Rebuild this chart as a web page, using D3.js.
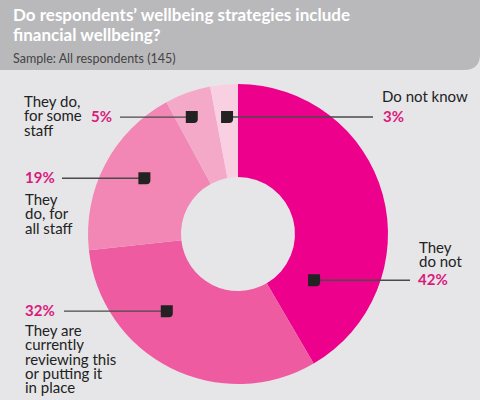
<!DOCTYPE html>
<html><head><meta charset="utf-8">
<script src="https://cdn.jsdelivr.net/npm/d3@7"></script>
<style>
html,body{margin:0;padding:0;background:#e6e6e8;}
svg{display:block;font-family:Lato,"Open Sans",sans-serif;}
</style></head>
<body><svg id="c" width="480" height="400"></svg>
<script>
// ---- data ----
const categories = ["They do not","They are currently reviewing this or putting it in place","They do, for all staff","They do, for some staff","Do not know"];
const values = [42, 32, 19, 5, 3];
const valueLabels = ["42%","32%","19%","5%","3%"];
const labelLines = [
  ["They","do not"],
  ["They are","currently","reviewing this","or putting it","in place"],
  ["They","do, for","all staff"],
  ["They do,","for some","staff"],
  ["Do not know"]
];
const colors = ["#ec008c","#ef5ba0","#f287b5","#f5a9c9","#f9d0e1"];
const title = ["Do respondents\u2019 wellbeing strategies include","financial wellbeing?"];
const subtitle = "Sample: All respondents (145)";

// ---- layout (annotation placement) ----
const W=480,H=400, cx=238, cy=234, R=150, r0=57;
const fs=15, lh=14.3;
// t: position along slice angle, rr: marker radius, lineEnd: x of leader end,
// firstBase: first text-line baseline relative to leader y
const ann = [
  {t:0.81, rr:89,   lineEnd:410, pctX:418, pctAnchor:"start", textX:419, firstBase:-13-lh},
  {t:0.64, rr:105,  lineEnd:64,  pctX:25,  pctAnchor:"start", textX:25,  firstBase:25},
  {t:0.547,rr:109,  lineEnd:62,  pctX:25,  pctAnchor:"start", textX:25,  firstBase:27},
  {t:0.39, rr:125.7,lineEnd:120, pctX:112, pctAnchor:"end",   textX:24,  firstBase:-10},
  {t:0.5,  rr:117.5,lineEnd:373, pctX:383, pctAnchor:"start", textX:382, firstBase:-15}
];

const svg=d3.select("#c");
svg.append("rect").attr("width",W).attr("height",H).attr("fill","#e6e6e8");
const hb=70, cr=16;
svg.append("path").attr("fill","#b9b9bc")
  .attr("d",`M0,0H${W}V${hb-cr}Q${W},${hb} ${W-cr},${hb}H0Z`);
const tt=svg.append("text").attr("x",13).attr("y",21)
  .attr("fill","#fff").attr("font-weight","bold").attr("font-size",17);
tt.selectAll("tspan").data(title).join("tspan").attr("x",13).attr("dy",(d,i)=>i?20:0).text(d=>d);
svg.append("text").attr("x",13).attr("y",63).attr("fill","#444").attr("font-size",12.5).text(subtitle);

const pie=d3.pie().sort(null).value(d=>d)(values);
const arc=d3.arc().innerRadius(r0).outerRadius(R);
const g=svg.append("g").attr("transform",`translate(${cx},${cy})`);
g.selectAll("path").data(pie).join("path").attr("d",arc).attr("fill",(d,i)=>colors[i]);

const pts=pie.map((p,i)=>{
  const a=p.startAngle+ann[i].t*(p.endAngle-p.startAngle);
  return [cx+ann[i].rr*Math.sin(a), cy-ann[i].rr*Math.cos(a)];
});
svg.append("g").selectAll("line").data(pts).join("line")
  .attr("x1",d=>d[0]).attr("y1",d=>d[1]).attr("x2",(d,i)=>ann[i].lineEnd).attr("y2",d=>d[1])
  .attr("stroke","#4a4a4a").attr("stroke-width",1.4);
const s=12, mr=4;
svg.append("g").selectAll("path").data(pts).join("path")
  .attr("fill","#222")
  .attr("d",d=>{const x=d[0]-s/2,y=d[1]-s/2;
    return `M${x},${y}H${x+s}V${y+s-mr}Q${x+s},${y+s} ${x+s-mr},${y+s}H${x}Z`;});

const lab=svg.append("g").attr("font-size",fs);
pts.forEach((p,i)=>{
  const a=ann[i], y=p[1];
  lab.append("text").attr("x",a.pctX).attr("y",y+5)
    .attr("text-anchor",a.pctAnchor)
    .attr("fill","#d81b7d").attr("font-weight","bold").text(valueLabels[i]);
  const t=lab.append("text").attr("x",a.textX).attr("y",y+a.firstBase).attr("fill","#222");
  t.selectAll("tspan").data(labelLines[i]).join("tspan")
    .attr("x",a.textX).attr("dy",(d,j)=>j?lh:0).text(d=>d);
});
</script></body></html>
